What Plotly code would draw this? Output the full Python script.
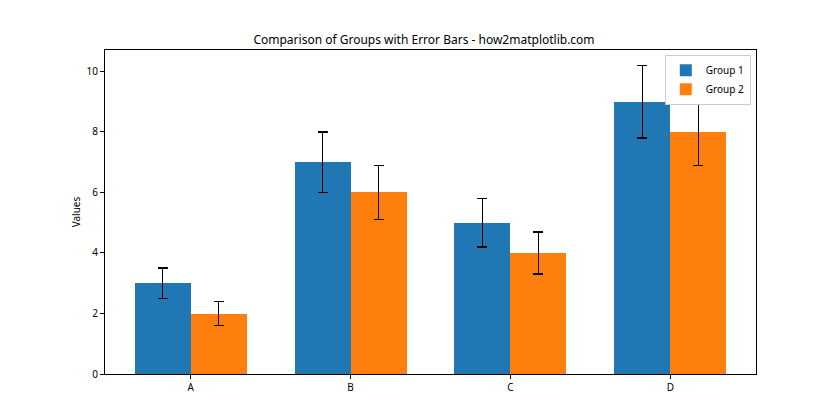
import plotly.graph_objects as go

categories = ["A", "B", "C", "D"]
group1 = [3, 7, 5, 9]
group2 = [2, 6, 4, 8]
err1 = [0.5, 1.0, 0.8, 1.2]
err2 = [0.4, 0.9, 0.7, 1.1]
bar_width = 0.35

idx = list(range(len(categories)))
x1 = [i for i in idx]
x2 = [i + bar_width for i in idx]
ticks = [i + bar_width / 2 for i in idx]

font = "Noto Sans"

fig = go.Figure()
fig.add_trace(go.Bar(
    x=x1, y=group1, width=bar_width, name="Group 1",
    marker=dict(color="#1f77b4", line=dict(width=0)),
    error_y=dict(type="data", array=err1, color="black", thickness=1.5, width=5),
))
fig.add_trace(go.Bar(
    x=x2, y=group2, width=bar_width, name="Group 2",
    marker=dict(color="#ff7f0e", line=dict(width=0)),
    error_y=dict(type="data", array=err2, color="black", thickness=1.5, width=5),
))

fig.update_layout(
    width=840, height=420,
    margin=dict(l=97, r=92, t=42, b=54),
    paper_bgcolor="white", plot_bgcolor="white",
    font=dict(family=font, size=10, color="black"),
    title=dict(text="Comparison of Groups with Error Bars - how2matplotlib.com",
               x=0.5 - 4 / 840, xanchor="center", y=1 - 32 / 420, yanchor="middle",
               font=dict(size=12, family=font)),
    barmode="overlay",
    bargap=0,
    showlegend=True,
    legend=dict(x=0.992, y=0.985, xanchor="right", yanchor="top",
                bgcolor="white", bordercolor="#cccccc", borderwidth=1,
                font=dict(size=10), traceorder="normal",
                itemwidth=30, tracegroupgap=0),
    xaxis=dict(range=[-0.36, 3.71], tickvals=ticks, ticktext=categories,
               showgrid=False, zeroline=False, showline=True, linecolor="black",
               linewidth=1, mirror=True, ticks="outside", ticklen=4,
               tickcolor="black"),
    yaxis=dict(range=[0, 10.71], tickvals=[0, 2, 4, 6, 8, 10],
               showgrid=False, zeroline=False, showline=True, linecolor="black",
               linewidth=1, mirror=True, ticks="outside", ticklen=4,
               tickcolor="black",
               title=dict(text="Values", font=dict(size=10), standoff=4)),
)

fig.write_html("out.html")
